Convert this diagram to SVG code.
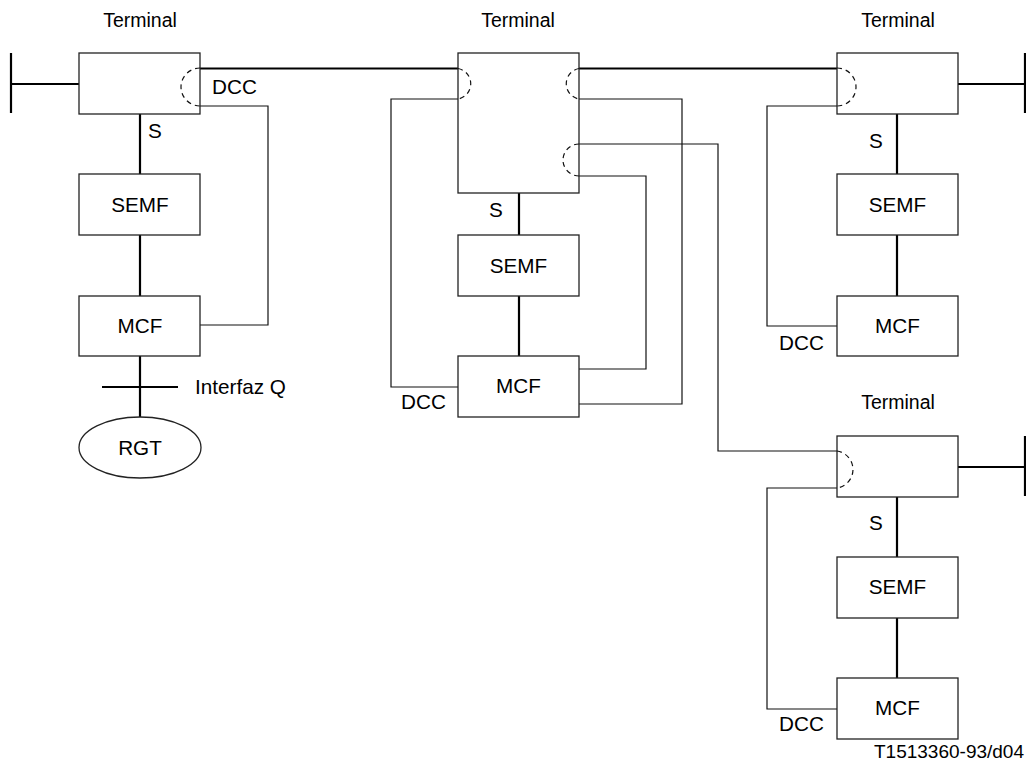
<svg xmlns="http://www.w3.org/2000/svg" width="1026" height="765" viewBox="0 0 1026 765">
<style>
text{font-family:"Liberation Sans",Arial,sans-serif;font-size:20.7px;fill:#000}
.t{font-size:19.5px}
.c{text-anchor:middle}
.box{fill:#fff;stroke:#222;stroke-width:1.3}
.thick{fill:none;stroke:#000;stroke-width:2.2}
.thin{fill:none;stroke:#111;stroke-width:1.2}
.dash{fill:none;stroke:#111;stroke-width:1.2;stroke-dasharray:5,4}
</style>
<rect width="1026" height="765" fill="#fff"/>
<g id="connectors">
  <path class="thick" d="M11,53 V113 M11,84 H79"/>
  <path class="thick" d="M200,68.5 H458"/>
  <path class="thin" d="M200,106 H268 V325 H200"/>
  <path class="thick" d="M140,114 V174 M140,235 V296 M140,356 V417 M102,387 H178"/>
  <path class="thin" d="M458,99 H391 V387 H458"/>
  <path class="thick" d="M579,68.5 H837"/>
  <path class="thin" d="M579,99 H682 V404 H579"/>
  <path class="thin" d="M579,144 H718 V451 H837"/>
  <path class="thin" d="M579,176 H646 V369 H579"/>
  <path class="thick" d="M519,193 V235 M519,296 V356"/>
  <path class="thick" d="M958,84 H1025 M1025,53 V113"/>
  <path class="thin" d="M837,106 H767 V326 H837"/>
  <path class="thick" d="M897,114 V174 M897,235 V296"/>
  <path class="thick" d="M958,467 H1025 M1025,436 V496"/>
  <path class="thin" d="M837,488 H767 V709 H837"/>
  <path class="thick" d="M897,497 V557 M897,618 V678"/>
</g>
<g id="terminal-left">
  <text class="c t" x="140" y="27">Terminal</text>
  <rect class="box" x="79" y="53" width="121" height="61"/>
  <path class="dash" d="M200,68 A19,19 0 0 0 200,106"/>
  <text x="212" y="94">DCC</text>
  <text x="148" y="138">S</text>
</g>
<g id="semf-left"><rect class="box" x="79" y="174" width="121" height="61"/><text class="c" x="140" y="212">SEMF</text></g>
<g id="mcf-left"><rect class="box" x="79" y="296" width="121" height="60"/><text class="c" x="140" y="333">MCF</text></g>
<g id="interfaz-q"><text x="195" y="394">Interfaz Q</text></g>
<g id="rgt"><ellipse cx="140" cy="447.5" rx="61" ry="30.5" fill="#fff" stroke="#222" stroke-width="1.3"/><text class="c" x="140" y="455">RGT</text></g>

<g id="terminal-middle">
  <text class="c t" x="518" y="27">Terminal</text>
  <rect class="box" x="458" y="53" width="121" height="140"/>
  <path class="dash" d="M458,68.5 A15.5,15.5 0 0 1 458,99"/>
  <path class="dash" d="M579,68.5 A15.5,15.5 0 0 0 579,99"/>
  <path class="dash" d="M579,144 A16,16 0 0 0 579,176"/>
  <text x="489" y="217">S</text>
</g>
<g id="semf-middle"><rect class="box" x="458" y="235" width="121" height="61"/><text class="c" x="518.5" y="273">SEMF</text></g>
<g id="mcf-middle"><rect class="box" x="458" y="356" width="121" height="61"/><text class="c" x="518.5" y="393">MCF</text><text x="401" y="409">DCC</text></g>

<g id="terminal-right">
  <text class="c t" x="898" y="27">Terminal</text>
  <rect class="box" x="837" y="53" width="121" height="61"/>
  <path class="dash" d="M837,68 A19,19 0 0 1 837,106"/>
  <text x="869" y="148">S</text>
</g>
<g id="semf-right"><rect class="box" x="837" y="174" width="121" height="61"/><text class="c" x="897.5" y="212">SEMF</text></g>
<g id="mcf-right"><rect class="box" x="837" y="296" width="121" height="60"/><text class="c" x="897.5" y="333">MCF</text><text x="779" y="350">DCC</text></g>

<g id="terminal-bottom">
  <text class="c t" x="898" y="409">Terminal</text>
  <rect class="box" x="837" y="436" width="121" height="61"/>
  <path class="dash" d="M837,451 A18.7,18.7 0 0 1 837,488"/>
  <text x="869" y="530">S</text>
</g>
<g id="semf-bottom"><rect class="box" x="837" y="557" width="121" height="61"/><text class="c" x="897.5" y="594">SEMF</text></g>
<g id="mcf-bottom"><rect class="box" x="837" y="678" width="121" height="61"/><text class="c" x="897.5" y="715">MCF</text><text x="779" y="731">DCC</text></g>

<text x="1024" y="758" text-anchor="end" style="font-size:19px">T1513360-93/d04</text>
</svg>
